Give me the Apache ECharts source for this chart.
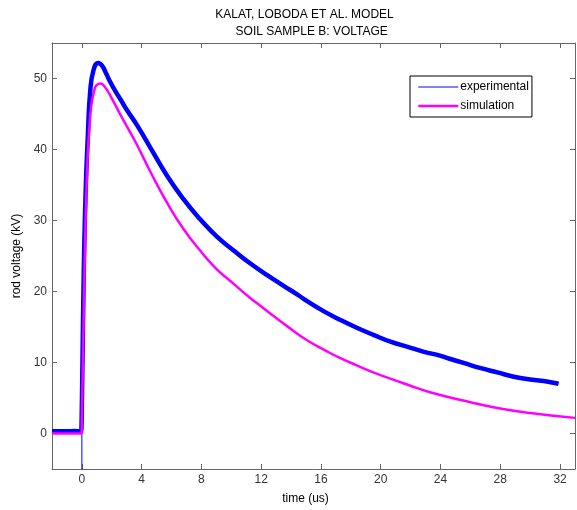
<!DOCTYPE html>
<html>
<head>
<meta charset="utf-8">
<script src="https://cdn.jsdelivr.net/npm/echarts@6/dist/echarts.min.js"></script>
<style>
html,body{margin:0;padding:0;background:#fff;}
#chart{width:577px;height:510px;}
</style>
</head>
<body>
<div id="chart"></div>
<script>
// ---- data ----
const titleLines = ['KALAT, LOBODA ET AL. MODEL', 'SOIL SAMPLE B: VOLTAGE'];
const seriesNames = ['experimental', 'simulation'];
const xTicks = [0, 4, 8, 12, 16, 20, 24, 28, 32];
const yTicks = [0, 10, 20, 30, 40, 50];

const expTime = [-2, -1.5, -1, -0.5, -0.04, 0.0, 0.04, 0.12, 0.25, 0.4, 0.55, 0.78, 1.1, 1.35, 1.6, 1.9, 2.3, 2.6, 3.0, 3.7, 4.6, 5.7, 6.8, 7.9, 9.0, 10.2, 11.3, 12.4, 13.5, 14.4, 15.1, 16.2, 17.3, 18.4, 19.5, 20.7, 21.8, 22.9, 23.9, 24.5, 25.6, 26.7, 27.8, 28.9, 30.0, 31.2, 31.9];
const expVolt = [0.3, 0.3, 0.3, 0.35, 0.3, 0.3, 10, 22, 34, 42, 48, 51.2, 52.2, 51.8, 50.8, 49.5, 48.0, 47.0, 45.6, 43.4, 40.2, 36.3, 33.0, 30.2, 27.8, 25.7, 23.9, 22.3, 20.8, 19.6, 18.6, 17.2, 16.0, 14.9, 13.9, 12.9, 12.2, 11.5, 11.0, 10.6, 9.9, 9.2, 8.6, 8.0, 7.6, 7.3, 7.0];

const spikeTime = [0, 0];
const spikeVolt = [2.4, -6];

const simTime = [-2, -0.02, 0, 0.05, 0.15, 0.25, 0.38, 0.5, 0.65, 0.85, 1.0, 1.25, 1.5, 1.9, 2.6, 3.0, 3.7, 4.6, 5.7, 6.8, 7.9, 9.0, 10.2, 11.2, 12.0, 14.0, 15.1, 16.2, 17.3, 18.4, 19.5, 20.4, 21.9, 23.3, 25.6, 27.8, 30.0, 33.0];
const simVolt = [0, 0, 0, 8, 20, 30, 38.7, 43, 46.5, 48.5, 49.1, 49.3, 48.9, 47.6, 44.8, 43.3, 40.6, 36.8, 32.5, 28.8, 25.8, 23.2, 21.0, 19.2, 17.9, 14.7, 13.1, 11.8, 10.6, 9.6, 8.6, 7.9, 6.8, 5.8, 4.6, 3.6, 2.9, 2.2];

const zip = (a, b) => a.map((v, i) => [v, b[i]]);

const FONT = '"Liberation Sans", Arial, sans-serif';
const axisGray = '#666666';
const labelColor = '#333333';

const chart = echarts.init(document.getElementById('chart'), null, {renderer: 'canvas'});

const baseX = {
  type: 'value', min: -2, max: 33,
  axisLine: {show: true, onZero: false, lineStyle: {color: axisGray, width: 1}},
  axisTick: {show: true, inside: true, length: 5, customValues: xTicks, lineStyle: {color: axisGray}},
  splitLine: {show: false}
};
const baseY = {
  type: 'value', min: -5, max: 55,
  axisLine: {show: true, onZero: false, lineStyle: {color: axisGray, width: 1}},
  axisTick: {show: true, inside: true, length: 5, customValues: yTicks, lineStyle: {color: axisGray}},
  splitLine: {show: false}
};

chart.setOption({
  animation: false,
  backgroundColor: '#ffffff',
  textStyle: {fontFamily: FONT},
  graphic: [
    {type: 'text', x: 304.5, y: 15, style: {text: titleLines[0], font: '12px ' + FONT, fill: '#000', textAlign: 'center', textVerticalAlign: 'middle'}},
    {type: 'text', x: 311.7, y: 31.5, style: {text: titleLines[1], font: '12px ' + FONT, fill: '#000', textAlign: 'center', textVerticalAlign: 'middle'}}
  ],
  grid: {left: 52, right: 2, top: 43, bottom: 38, containLabel: false},
  legend: {
    orient: 'vertical', left: 410, top: 76,
    padding: [5, 3, 5, 7],
    itemGap: 7,
    itemWidth: 40, itemHeight: 14,
    borderColor: '#000', borderWidth: 1, backgroundColor: '#fff',
    textStyle: {fontSize: 12, color: '#000', fontFamily: FONT, padding: [0, 0, 0, -3]},
    data: [
      {name: seriesNames[0], itemStyle: {opacity: 0}, lineStyle: {width: 1, color: '#0000ff'}},
      {name: seriesNames[1], itemStyle: {opacity: 0}, lineStyle: {width: 2.5, color: '#ff00ff'}}
    ]
  },
  xAxis: [
    Object.assign({}, baseX, {
      position: 'bottom',
      name: 'time (us)', nameLocation: 'middle', nameGap: 24,
      nameTextStyle: {fontSize: 12, color: '#000', fontFamily: FONT, padding: [0, 16, 0, 0]},
      axisLabel: {show: true, customValues: xTicks, margin: 5, fontSize: 12, color: labelColor, fontFamily: FONT}
    }),
    Object.assign({}, baseX, {position: 'top', axisLabel: {show: false}})
  ],
  yAxis: [
    Object.assign({}, baseY, {
      position: 'left',
      name: 'rod voltage (kV)', nameLocation: 'middle', nameGap: 27,
      nameTextStyle: {fontSize: 12, color: '#000', fontFamily: FONT},
      axisLabel: {show: true, customValues: yTicks, margin: 5, fontSize: 12, color: labelColor, fontFamily: FONT}
    }),
    Object.assign({}, baseY, {position: 'right', axisLabel: {show: false}})
  ],
  series: [
    {
      name: seriesNames[0], type: 'line', xAxisIndex: 0, yAxisIndex: 0,
      data: zip(expTime, expVolt), symbol: 'none', smooth: 0.5,
      lineStyle: {color: '#0000ff', width: 4.5}, itemStyle: {color: '#0000ff'}, z: 2
    },
    {
      name: seriesNames[0], type: 'line', xAxisIndex: 0, yAxisIndex: 0,
      data: zip(spikeTime, spikeVolt), symbol: 'none',
      lineStyle: {color: '#0000ff', width: 1}, itemStyle: {color: '#0000ff'}, z: 2
    },
    {
      name: seriesNames[1], type: 'line', xAxisIndex: 0, yAxisIndex: 0,
      data: zip(simTime, simVolt), symbol: 'none', smooth: 0.5,
      lineStyle: {color: '#ff00ff', width: 2.5}, itemStyle: {color: '#ff00ff'}, z: 3
    }
  ]
});
</script>
</body>
</html>
